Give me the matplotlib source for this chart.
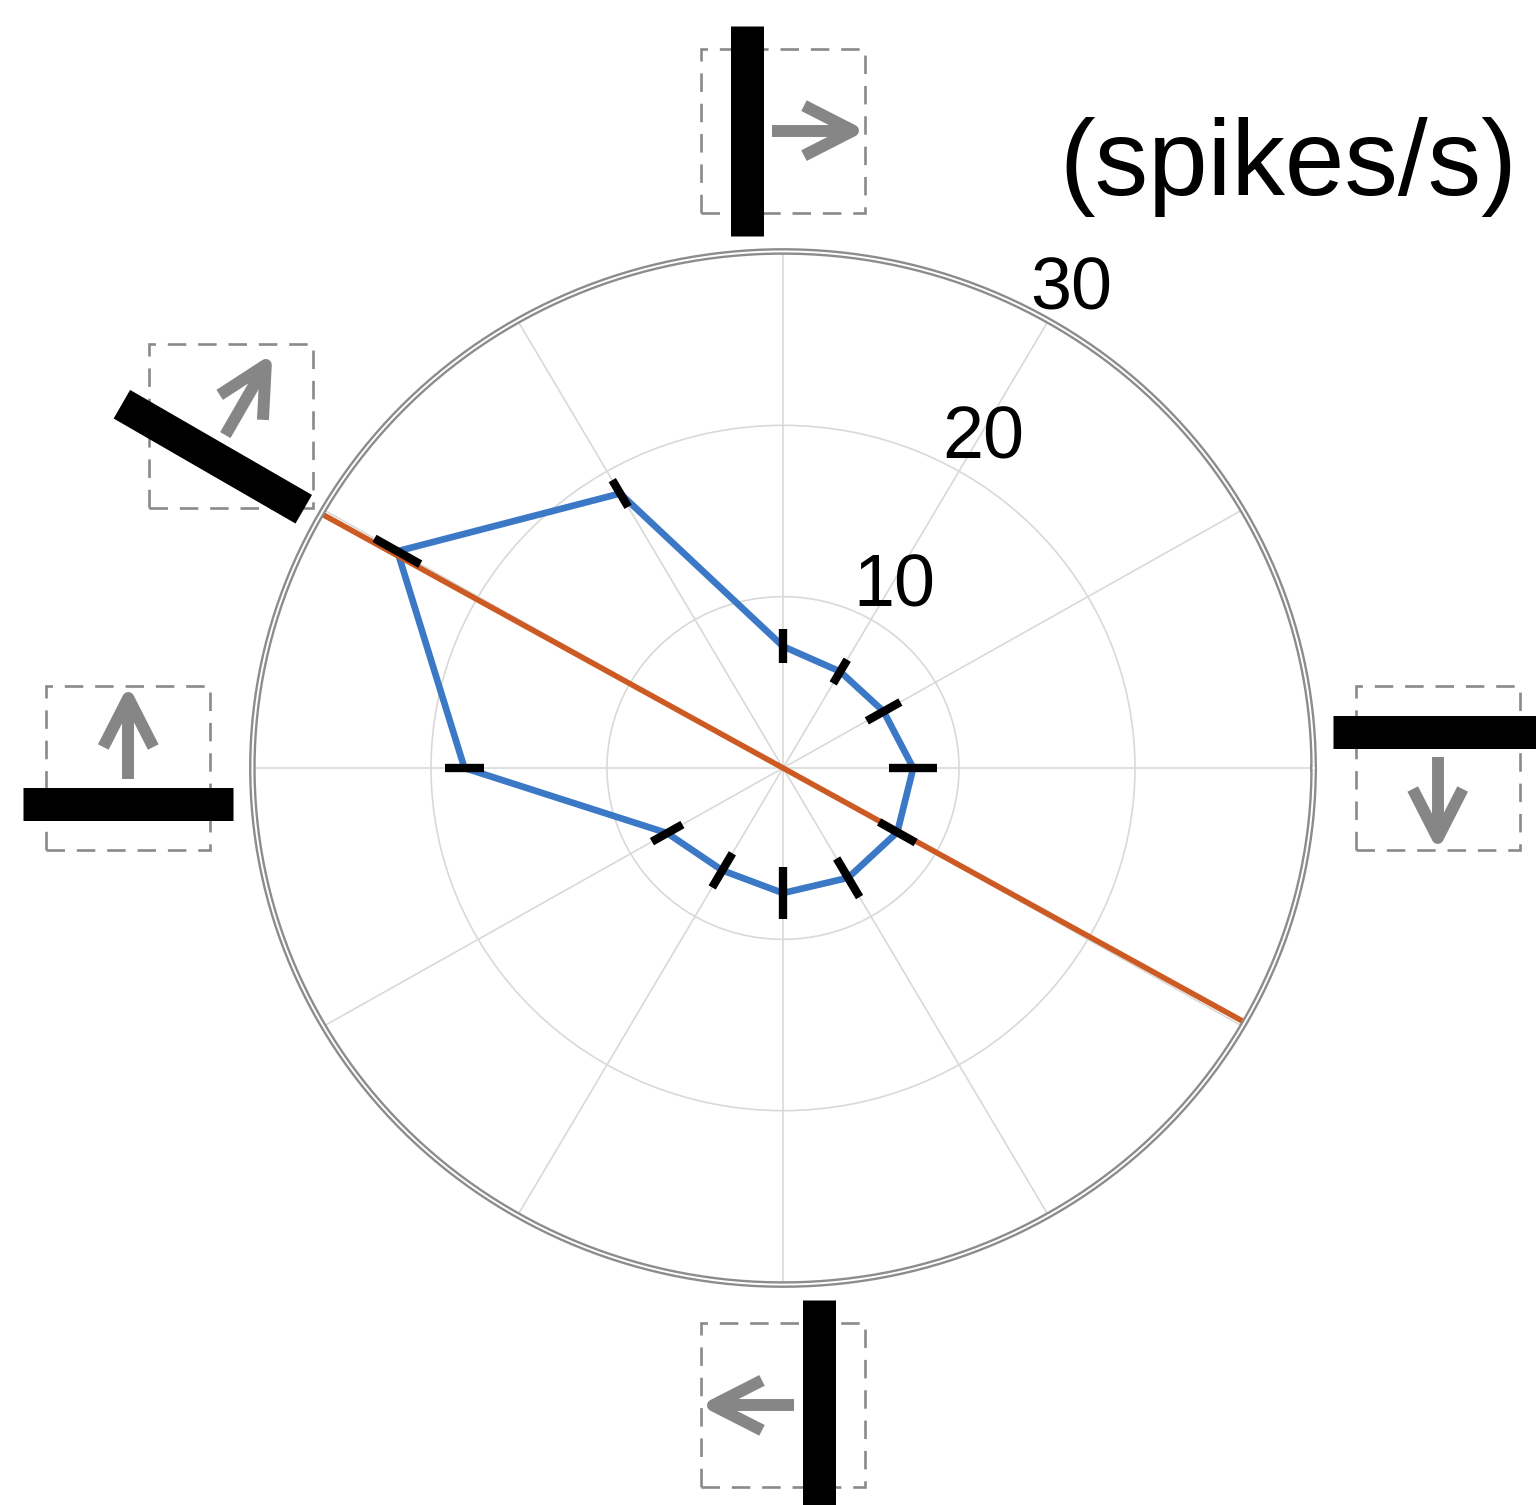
import numpy as np
import matplotlib.pyplot as plt
from matplotlib.patches import Rectangle

plt.rcParams['font.family'] = ['Liberation Sans', 'DejaVu Sans']

# mean firing rate per motion direction (deg), with SEM
directions = np.arange(0, 360, 30)
rates = [7.4, 6.6, 6.5, 7.1, 18.5, 25.3, 18.1, 7.6, 6.9, 7.3, 7.4, 7.5]
sem = [1.35, 1.1, 0.8, 1.0, 0.9, 1.5, 1.1, 1.0, 1.15, 1.5, 1.3, 1.2]
pref_dir = 150.5          # preferred direction (deg)
ring_ticks = [10, 20, 30]
stim_dirs = [90, 150, 180, 0, 270]   # icons drawn around the plot
unit_label = '(spikes/s)'

W, H = 1536, 1505
fig = plt.figure(figsize=(W / 100, H / 100), dpi=100)
ax = fig.add_axes([255 / W, 1 - 1282 / H, 1056 / W, 1028 / H], projection='polar')
ax.set_aspect('auto')

theta = np.deg2rad(directions)
rmax = ring_ticks[-1]
ax.set_ylim(0, rmax)
ax.set_xticks(theta)
ax.set_xticklabels([])
ax.set_yticks(ring_ticks[:-1])
ax.set_yticklabels([])
ax.tick_params(length=0)
ax.grid(color='#d9d9d9', lw=1.2)
ax.spines['polar'].set_visible(False)

# tuning curve
ax.plot(np.append(theta, theta[0]), np.append(rates, rates[0]),
        color='#3b78c6', lw=4.8, zorder=3)
ax.errorbar(theta, rates, yerr=sem, fmt='none', ecolor='black',
            elinewidth=6, capsize=0, zorder=5)

# preferred direction axis
p = np.deg2rad(pref_dir)
ax.plot([p, p + np.pi], [rmax, rmax], color='#cc5a22', lw=4, zorder=4)

# double outer ring
ring = np.linspace(0, 2 * np.pi, 500)
ax.plot(ring, np.full_like(ring, rmax + 0.15), color='#8c8c8c', lw=4.8, clip_on=False, zorder=6)
ax.plot(ring, np.full_like(ring, rmax + 0.15), color='white', lw=1.4, clip_on=False, zorder=7)

for t in ring_ticks:
    ax.text(np.deg2rad(60), t + 2.7, str(t), ha='center', va='center_baseline', fontsize=53)

fig.text(1288 / W, 1 - 167 / H, unit_label, ha='center', va='center', fontsize=77)

# stimulus icons: dashed frame, motion arrow and bar
ov = fig.add_axes([0, 0, 1, 1])
ov.set_xlim(0, W)
ov.set_ylim(0, H)
ov.axis('off')
ov.patch.set_alpha(0)

icon_r = 37.2
icon_nudge = {150: -2.5}   # oblique icon sits a little lower on the page
grey = '#868686'
for a in stim_dirs:
    pos = np.deg2rad(a + icon_nudge.get(a, 0))
    c = np.array(ax.transData.transform((pos, icon_r)))
    m = np.deg2rad(a - 90)
    u = np.array([np.cos(m), np.sin(m)])
    v = np.array([-np.sin(m), np.cos(m)])

    ov.add_patch(Rectangle((c[0] - 82, c[1] - 82), 164, 164, fill=False,
                           ec='#8a8a8a', lw=1.9, ls=(0, (7, 4.5))))

    tail = c - 11 * u
    tip = c + 70 * u
    ov.plot([tail[0], tip[0]], [tail[1], tip[1]], color=grey, lw=8.6,
            solid_capstyle='butt')
    ang = np.deg2rad(27)
    arm1 = tip - 55 * (np.cos(ang) * u + np.sin(ang) * v)
    arm2 = tip - 55 * (np.cos(ang) * u - np.sin(ang) * v)
    ov.plot([arm1[0], tip[0], arm2[0]], [arm1[1], tip[1], arm2[1]], color=grey,
            lw=8.6, solid_joinstyle='round', solid_capstyle='butt')

    b = c - 36 * u
    b0 = b - 105 * v
    b1 = b + 105 * v
    ov.plot([b0[0], b1[0]], [b0[1], b1[1]], color='black', lw=33 * 0.72,
            solid_capstyle='butt', clip_on=False)

fig.savefig('out.png', dpi=100)
